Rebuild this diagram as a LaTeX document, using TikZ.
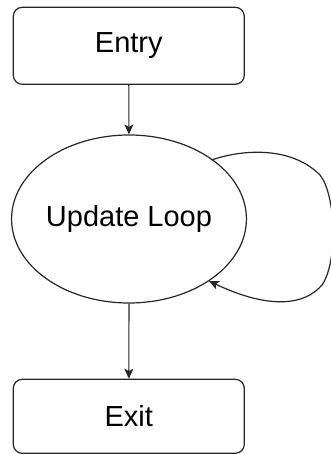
\documentclass[tikz,border=0pt]{standalone}
\usepackage{fontspec}
\setmainfont{Liberation Sans}
\usetikzlibrary{shapes.geometric,arrows.meta}
\begin{document}
\begin{tikzpicture}[x=1pt,y=-1pt,
  box/.style={draw=black!85, line width=1.2pt, rounded corners=9pt,
    minimum width=231pt, minimum height=77pt, inner sep=0pt},
  state/.style={draw=black!85, line width=1.2pt, ellipse,
    minimum width=232pt, minimum height=168pt, inner sep=0pt},
  link/.style={draw=black!85, line width=1.2pt,
    -{Stealth[length=10pt,width=9pt,inset=2.5pt]}},
  font=\fontsize{29pt}{34pt}\selectfont]
  \useasboundingbox (0,0) rectangle (331,454);
  \node[box]   (entry) at (128.8,45.8)  {Entry};
  \node[state] (loop)  at (129,219)     {Update Loop};
  \node[box, minimum height=74pt] (exit) at (128.8,416.3) {Exit};
  \draw[link] (entry) -- (loop);
  \draw[link] (loop) -- (exit);
  % self-loop on the right side of the ellipse
  \coordinate (ls) at (211.6,160);
  \coordinate (le) at (209,281);
  \draw[link] (ls) .. controls (240,150) and (290,145) .. (320,175)
    .. controls (336,195) and (338,262) .. (322,285)
    .. controls (305,305) and (270,310) .. (le);
\end{tikzpicture}
\end{document}
